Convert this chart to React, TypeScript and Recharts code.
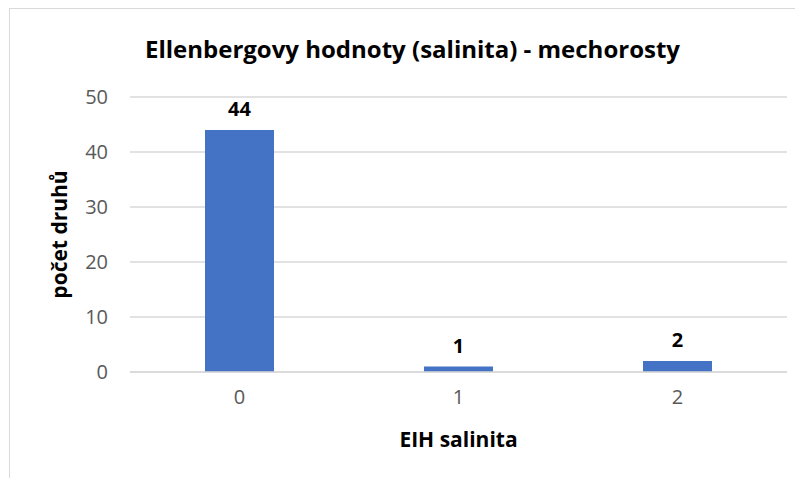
import { BarChart, Bar, XAxis, YAxis, CartesianGrid, LabelList } from 'recharts';

const categories = ['0', '1', '2'];
const speciesCounts = [44, 1, 2];
const yTicks = [0, 10, 20, 30, 40, 50];

const data = categories.map((c, i) => ({ name: c, value: speciesCounts[i] }));

const FONT = "'Open Sans', Lato, sans-serif";

export default function App() {
  return (
    <div style={{ position: 'relative', margin: -8, width: 803, height: 486, background: '#fff', overflow: 'hidden', fontFamily: FONT }}>
      <div style={{ position: 'absolute', left: 9, top: 8, width: 820, height: 520, border: '1px solid #d9d9d9' }} />
      <div style={{ position: 'absolute', left: 0, top: 32, width: 825, textAlign: 'center', fontSize: 24, lineHeight: '34px', fontWeight: 'bold', color: '#000' }}>
        Ellenbergovy hodnoty (salinita) - mechorosty
      </div>
      <div style={{ position: 'absolute', left: 0, top: 0 }}>
        <BarChart width={803} height={486} data={data} margin={{ top: 97, right: 16, bottom: 34, left: 10 }}>
          <CartesianGrid vertical={false} stroke="#d9d9d9" strokeWidth={1.5} />
          <XAxis
            dataKey="name"
            height={80}
            tickLine={false}
            axisLine={{ stroke: '#d9d9d9', strokeWidth: 1.5 }}
            tickSize={0}
            tickMargin={18}
            tick={{ fill: '#595959', fontSize: 20, fontFamily: FONT }}
            label={{ value: 'EIH salinita', position: 'insideBottom', offset: 5, fill: '#000', fontSize: 21, fontWeight: 'bold', fontFamily: FONT }}
          />
          <YAxis
            width={120}
            domain={[0, 50]}
            ticks={yTicks}
            tickLine={false}
            axisLine={false}
            tickSize={0}
            tickMargin={22}
            tick={{ fill: '#595959', fontSize: 20, fontFamily: FONT }}
            label={{ value: 'počet druhů', angle: -90, position: 'insideLeft', offset: 50, fill: '#000', fontSize: 21, fontWeight: 'bold', fontFamily: FONT, style: { textAnchor: 'middle' } }}
          />
          <Bar dataKey="value" fill="#4472c4" barSize={69} isAnimationActive={false}>
            <LabelList dataKey="value" position="top" offset={14} fill="#000" fontSize={20} fontWeight="bold" fontFamily={FONT} />
          </Bar>
        </BarChart>
      </div>
    </div>
  );
}
